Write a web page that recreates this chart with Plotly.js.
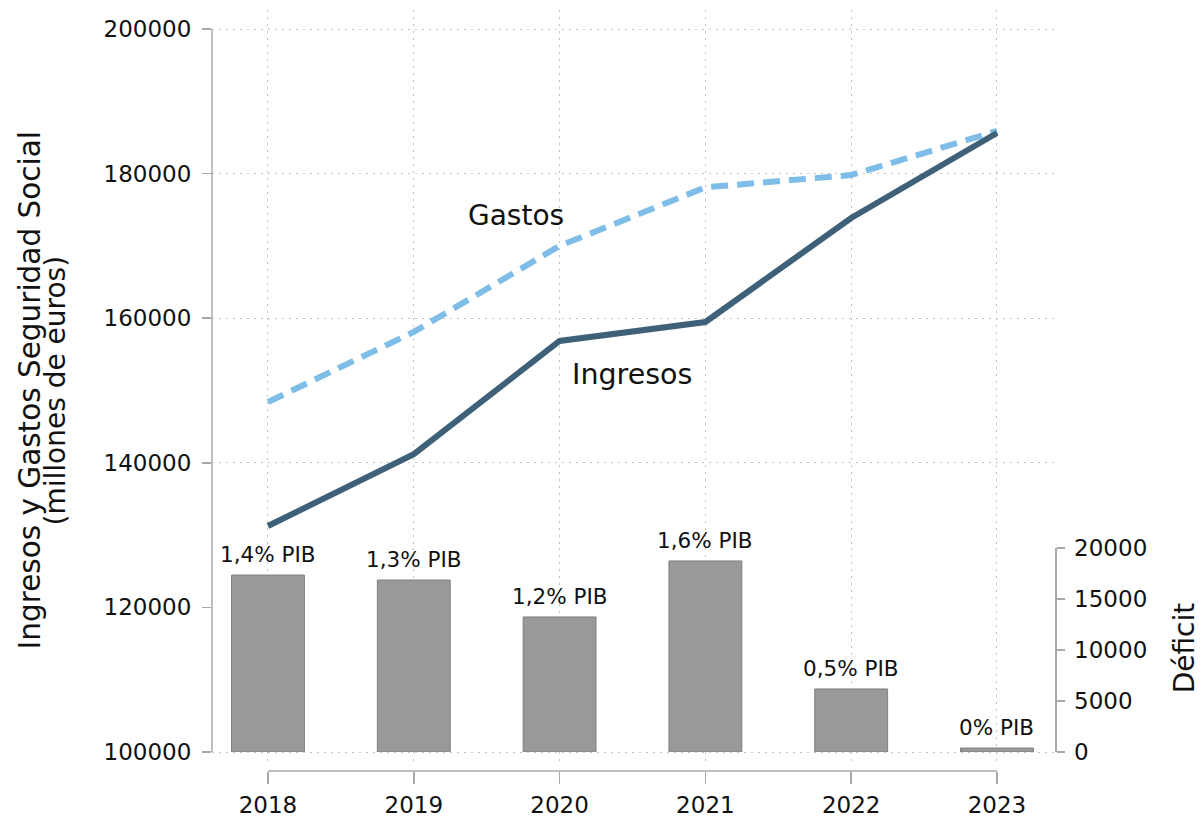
<!DOCTYPE html>
<html><head><meta charset="utf-8">
<script src="https://cdn.plot.ly/plotly-3.0.1.min.js"></script>
<style>html,body{margin:0;padding:0;background:#fff}#chart{width:1202px;height:818px}</style>
</head><body><div id="chart"></div>
<script>
const years = [2018, 2019, 2020, 2021, 2022, 2023];
const ingresos = [131260, 141200, 156850, 159470, 173860, 185620];
const gastos = [148400, 158100, 170000, 178100, 179800, 185900];
const deficit = [17350, 16860, 13240, 18730, 6180, 390];
const deficitLabels = ['1,4% PIB', '1,3% PIB', '1,2% PIB', '1,6% PIB', '0,5% PIB', '0% PIB'];
const leftTicks = [100000, 120000, 140000, 160000, 180000, 200000];
const rightTicks = [0, 5000, 10000, 15000, 20000];
const seriesNames = ['Ingresos', 'Gastos'];
const leftTitle = ['Ingresos y Gastos Seguridad Social', '(millones de euros)'];
const rightTitle = 'Déficit';

const FONT = 'DejaVu Sans';
const AX = '#a8a8a8';
const GRID = '#c4c4c4';

const traces = [
  {
    type: 'bar', x: years, y: deficit, xaxis: 'x', yaxis: 'y2', width: 0.5,
    marker: {color: '#999999', line: {color: '#808080', width: 1}},
    hoverinfo: 'skip', showlegend: false
  },
  {
    type: 'scatter', mode: 'lines', x: years, y: gastos, name: seriesNames[1], xaxis: 'x', yaxis: 'y',
    line: {color: '#7dbde8', width: 6, dash: '17px,9px'}, showlegend: false
  },
  {
    type: 'scatter', mode: 'lines', x: years, y: ingresos, name: seriesNames[0], xaxis: 'x', yaxis: 'y',
    line: {color: '#3e6179', width: 6}, showlegend: false
  }
];

const barLabelAnnotations = years.map((yr, i) => ({
  xref: 'x', yref: 'y2', x: yr, y: deficit[i], text: deficitLabels[i], showarrow: false,
  xanchor: 'center', yanchor: 'bottom', yshift: 6,
  font: {family: FONT, size: 21.5, color: '#111'}
}));

const layout = {
  width: 1202, height: 818,
  margin: {l: 212, r: 147, t: 10, b: 47, pad: 0},
  paper_bgcolor: '#fff', plot_bgcolor: '#fff',
  font: {family: FONT, size: 23, color: '#111'},
  showlegend: false,
  xaxis: {
    domain: [0, 1], anchor: 'free', position: 0,
    range: [2017.616, 2023.398],
    tickvals: years, tickformat: 'd',
    ticks: 'outside', ticklen: 12, tickwidth: 1.5, tickcolor: AX,
    showline: false, zeroline: false,
    showgrid: true, gridcolor: GRID, gridwidth: 1, griddash: '2px,5px',
    tickfont: {family: FONT, size: 23, color: '#111'}, ticklabelstandoff: 1
  },
  yaxis: {
    domain: [0.00788, 1], anchor: 'x',
    range: [98202, 202628],
    tickvals: leftTicks, tickformat: 'd',
    ticks: 'outside', ticklen: 9, tickwidth: 1.5, tickcolor: AX,
    showline: false, zeroline: false,
    showgrid: true, gridcolor: GRID, gridwidth: 1, griddash: '2px,5px',
    tickfont: {family: FONT, size: 23, color: '#111'}, ticklabelstandoff: 6
  },
  yaxis2: {
    domain: [0.02497, 0.29304], anchor: 'x', side: 'right',
    range: [0, 20000],
    tickvals: rightTicks, tickformat: 'd',
    ticks: 'outside', ticklen: 8, tickwidth: 1.5, tickcolor: AX,
    showline: true, linecolor: AX, linewidth: 1.5, zeroline: false, showgrid: false,
    tickfont: {family: FONT, size: 23, color: '#111'}, ticklabelstandoff: 5
  },
  shapes: [
    {type: 'line', xref: 'paper', x0: 0, x1: 0, yref: 'y', y0: leftTicks[0], y1: leftTicks[leftTicks.length - 1],
     line: {color: AX, width: 1.5}},
    {type: 'line', xref: 'x', x0: years[0], x1: years[years.length - 1], yref: 'paper', y0: 0, y1: 0,
     line: {color: AX, width: 1.5}}
  ],
  annotations: [
    {xref: 'paper', yref: 'paper', x: -0.2165, y: 0.5007, text: leftTitle[0], textangle: -90,
     showarrow: false, xanchor: 'center', yanchor: 'middle', font: {family: FONT, size: 29.5, color: '#111'}},
    {xref: 'paper', yref: 'paper', x: -0.1845, y: 0.5007, text: leftTitle[1], textangle: -90,
     showarrow: false, xanchor: 'center', yanchor: 'middle', font: {family: FONT, size: 28, color: '#111'}},
    {xref: 'paper', yref: 'paper', x: 1.1534, y: 0.1616, text: rightTitle, textangle: -90,
     showarrow: false, xanchor: 'center', yanchor: 'middle', borderpad: 0, font: {family: FONT, size: 28, color: '#111'}},
    {xref: 'x', yref: 'y', x: 2019.70, y: 174270, text: seriesNames[1], showarrow: false,
     xanchor: 'center', yanchor: 'middle', font: {family: FONT, size: 28, color: '#111'}},
    {xref: 'x', yref: 'y', x: 2020.497, y: 152280, text: seriesNames[0], showarrow: false,
     xanchor: 'center', yanchor: 'middle', font: {family: FONT, size: 28.5, color: '#111'}}
  ].concat(barLabelAnnotations),
  hovermode: false
};

Plotly.newPlot('chart', traces, layout, {displayModeBar: false, staticPlot: true});
</script>
</body></html>
